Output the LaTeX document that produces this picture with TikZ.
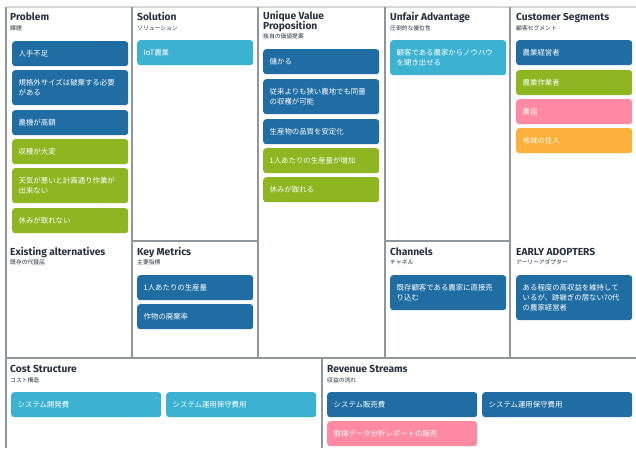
\documentclass[tikz,border=0pt]{standalone}
\usepackage{fontspec}
\setmainfont{Fira Sans}
\newfontfamily\jpfont{Noto Sans CJK JP}
\usetikzlibrary{positioning}
\definecolor{cardblue}{HTML}{1F6DA3}
\definecolor{cardgreen}{HTML}{8DB620}
\definecolor{cardcyan}{HTML}{3BB2D2}
\definecolor{cardpink}{HTML}{FF8AA1}
\definecolor{cardorange}{HTML}{FBB03B}
\definecolor{gridline}{HTML}{8F969D}
\definecolor{topline}{HTML}{D5D9DD}
\definecolor{headcol}{HTML}{263140}

\begin{document}
\begin{tikzpicture}[
  x=1pt, y=-1pt,
  grid/.style={draw=gridline, line width=1.2pt},
  head/.style={anchor=base west, inner sep=0pt, text=headcol,
               font=\fontsize{10.2}{8}\selectfont\bfseries},
  sub/.style={anchor=base west, inner sep=0pt, text=headcol,
              font=\fontsize{5.8}{6}\selectfont\jpfont},
  card/.style={anchor=north west, rounded corners=3pt, inner xsep=6.5pt,
               inner ysep=0pt, text=white, align=left, text width=#1,
               minimum height=25pt, font=\fontsize{7.4}{10.3}\selectfont\jpfont},
  card/.default=103pt,
  cblue/.style={card=#1, fill=cardblue},
  cblue/.default=103pt,
  cgreen/.style={card=#1, fill=cardgreen},
  cgreen/.default=103pt,
  ccyan/.style={card=#1, fill=cardcyan},
  ccyan/.default=103pt,
  cpink/.style={card=#1, fill=cardpink},
  cpink/.default=103pt,
  corange/.style={card=#1, fill=cardorange},
  corange/.default=103pt
]
  \useasboundingbox (0,0) rectangle (636,448);

  % canvas lines
  \draw[draw=topline, line width=2pt] (6,7) -- (636,7);
  \draw[grid] (6,7) -- (6,448);
  \draw[grid] (132,7) -- (132,358);
  \draw[grid] (258,7) -- (258,358);
  \draw[grid] (385,7) -- (385,358);
  \draw[grid] (510,7) -- (510,358);
  \draw[grid] (132,241) -- (258,241);
  \draw[grid] (385,241) -- (510,241);
  \draw[grid] (6,358) -- (636,358);
  \draw[grid] (322,358) -- (322,448);

  % Problem
  \node[head] (problem) at (10,20) {Problem};
  \node[sub] (problemsub) at (10,30) {課題};
  \node[cblue] (prob1) at (12,41) {人手不足};
  \node[cblue, minimum height=35pt] (prob2) at (12,70) {規格外サイズは破棄する必要\\がある};
  \node[cblue] (prob3) at (12,110) {農機が高額};
  \node[cgreen] (prob4) at (12,139) {収穫が大変};
  \node[cgreen, minimum height=35pt] (prob5) at (12,168) {天気が悪いと計画通り作業が\\出来ない};
  \node[cgreen] (prob6) at (12,208) {休みが取れない};

  % Existing alternatives
  \node[head] (existing) at (10,255) {Existing alternatives};
  \node[sub] (existingsub) at (10,264) {既存の代替品};

  % Solution
  \node[head] (solution) at (137,20) {Solution};
  \node[sub] (solutionsub) at (137,30) {ソリューション};
  \node[ccyan] (sol1) at (137,40) {IoT農業};

  % Key Metrics
  \node[head] (metrics) at (137,255) {Key Metrics};
  \node[sub] (metricssub) at (137,264) {主要指標};
  \node[cblue] (met1) at (137,275) {1人あたりの生産量};
  \node[cblue] (met2) at (137,304) {作物の廃棄率};

  % Unique Value Proposition
  \node[head] (uvp) at (263,19.5) {Unique Value};
  \node[head] (uvp2) at (263,29.5) {Proposition};
  \node[sub] (uvpsub) at (263,38) {独自の価値提案};
  \node[cblue] (uvp1) at (263,49) {儲かる};
  \node[cblue, minimum height=35pt] (uvp2b) at (263,79) {従来よりも狭い農地でも同量\\の収穫が可能};
  \node[cblue] (uvp3) at (263,119) {生産物の品質を安定化};
  \node[cgreen] (uvp4) at (263,148) {1人あたりの生産量が増加};
  \node[cgreen] (uvp5) at (263,177) {休みが取れる};

  % Unfair Advantage
  \node[head] (unfair) at (390,20) {Unfair Advantage};
  \node[sub] (unfairsub) at (390,30) {圧倒的な優位性};
  \node[ccyan, minimum height=35pt] (unf1) at (390,40) {顧客である農家からノウハウ\\を聞き出せる};

  % Channels
  \node[head] (channels) at (390,255) {Channels};
  \node[sub] (channelssub) at (390,264) {チャネル};
  \node[cblue, minimum height=35pt] (ch1) at (390,275) {既存顧客である農家に直接売\\り込む};

  % Customer Segments
  \node[head] (segments) at (516,20) {Customer Segments};
  \node[sub] (segmentssub) at (516,30) {顧客セグメント};
  \node[cblue] (seg1) at (516,40) {農業経営者};
  \node[cgreen] (seg2) at (516,70) {農業作業者};
  \node[cpink] (seg3) at (516,99) {農協};
  \node[corange] (seg4) at (516,128) {地域の住人};

  % Early adopters
  \node[head] (adopters) at (516,255) {EARLY ADOPTERS};
  \node[sub] (adopterssub) at (516,264) {アーリーアダプター};
  \node[cblue, minimum height=45pt] (ea1) at (516,275) {ある程度の高収益を維持して\\いるが、跡継ぎの居ない70代\\の農家経営者};

  % Cost Structure
  \node[head] (cost) at (10,372) {Cost Structure};
  \node[sub] (costsub) at (10,382) {コスト構造};
  \node[ccyan=137pt] (cost1) at (11,392) {システム開発費};
  \node[ccyan=137pt] (cost2) at (166,392) {システム運用保守費用};

  % Revenue Streams
  \node[head] (revenue) at (327,372) {Revenue Streams};
  \node[sub] (revenuesub) at (327,382) {収益の流れ};
  \node[cblue=137pt] (rev1) at (327,392) {システム販売費};
  \node[cblue=137pt] (rev2) at (482,392) {システム運用保守費用};
  \node[cpink=137pt] (rev3) at (327,421) {取得データ分析レポートの販売};
\end{tikzpicture}
\end{document}
